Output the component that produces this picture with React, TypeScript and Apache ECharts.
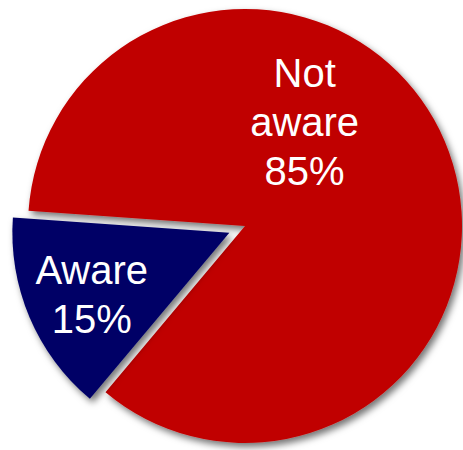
import React, { useEffect, useRef } from "react";
import * as echarts from "echarts";

const categories = ["Not aware", "Aware"];
const values = [85, 15];
const colors = ["#C00000", "#000066"];
const labelShifts = [
  { dx: -43, dy: -60 },
  { dx: -35, dy: 18 },
];

export default function App() {
  const ref = useRef<HTMLDivElement>(null);
  useEffect(() => {
    if (!ref.current) return;
    const chart = echarts.init(ref.current, undefined, { renderer: "svg" });
    const data = categories.map((name, i) => ({
      name,
      value: values[i],
      selected: i === 1,
      itemStyle: { color: colors[i] },
      select: { itemStyle: { color: colors[i] } },
    }));
    chart.setOption({
      animation: false,
      series: [
        {
          type: "pie",
          center: [245, 226],
          radius: 217,
          startAngle: 176,
          clockwise: true,
          selectedMode: "single",
          selectedOffset: 17,
          avoidLabelOverlap: false,
          itemStyle: {
            shadowBlur: 7,
            shadowColor: "rgba(0,0,0,0.55)",
            shadowOffsetX: 3,
            shadowOffsetY: 4,
          },
          label: {
            show: true,
            position: "inside",
            color: "#ffffff",
            fontFamily: "Liberation Sans, Arial, sans-serif",
            fontSize: 40,
            lineHeight: 49,
            align: "center",
            formatter: (p: any) => p.name.replace(" ", "\n") + "\n" + Math.round(p.percent) + "%",
          },
          labelLine: { show: false },
          labelLayout: (p: any) => labelShifts[p.dataIndex],
          emphasis: { disabled: true },
          data,
        },
      ],
    });
    return () => chart.dispose();
  }, []);
  return (
    <div
      ref={ref}
      style={{ position: "absolute", left: 0, top: 0, width: 463, height: 450 }}
    />
  );
}
